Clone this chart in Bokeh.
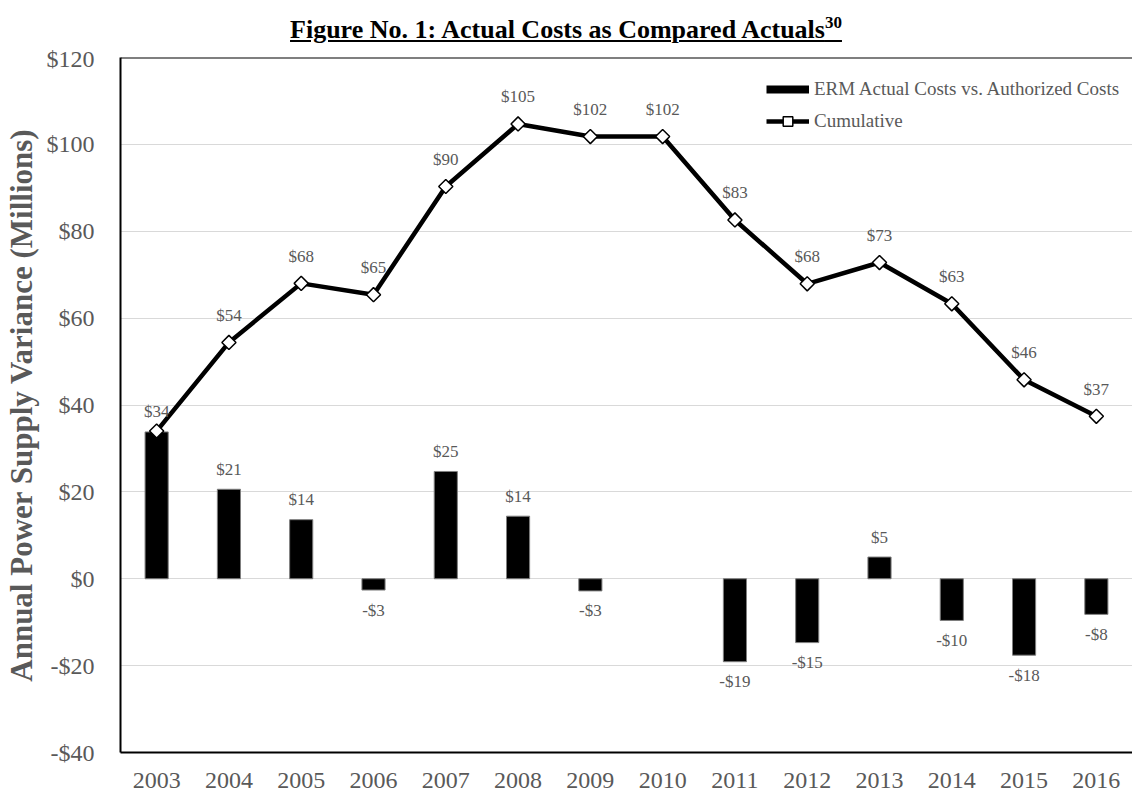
from bokeh.plotting import figure
from bokeh.models import Div, Span, Legend, LegendItem, FixedTicker, ColumnDataSource, Range1d
from bokeh.layouts import column
from bokeh.embed import file_html
from bokeh.resources import INLINE
from bokeh.core.properties import value
import math

years = [2003, 2004, 2005, 2006, 2007, 2008, 2009, 2010, 2011, 2012, 2013, 2014, 2015, 2016]
annual = [33.8, 20.6, 13.6, -2.6, 24.7, 14.4, -2.8, 0.0, -19.1, -14.7, 5.0, -9.6, -17.6, -8.2]
cumulative = [34.0, 54.4, 68.0, 65.4, 90.3, 104.7, 101.8, 101.8, 82.6, 67.9, 72.8, 63.3, 45.8, 37.4]
y_ticks = [-40, -20, 0, 20, 40, 60, 80, 100, 120]
y_tick_labels = ["-$40", "-$20", "$0", "$20", "$40", "$60", "$80", "$100", "$120"]
bar_name = "ERM Actual Costs vs. Authorized Costs"
line_name = "Cumulative"
title_text = "Figure No. 1: Actual Costs as Compared Actuals"
title_sup = "30"
y_label = "Annual Power Supply Variance (Millions)"

FONT = "Liberation Serif"
GRAY = "#595959"

def money(v):
    r = int(round(v))
    return ("-$%d" % abs(r)) if r < 0 else ("$%d" % r)

bx = [x for x, v in zip(years, annual) if v != 0]
bv = [v for v in annual if v != 0]
bar_src = ColumnDataSource(dict(x=bx, top=bv, text=[money(v) for v in bv],
                                off=[-20 if v > 0 else 20 for v in bv]))
line_src = ColumnDataSource(dict(x=years, y=cumulative))
bar_text = dict(zip(bx, [money(v) for v in bv]))
lx = [x for x, c in zip(years, cumulative) if bar_text.get(x) != money(c)]
lc = [c for x, c in zip(years, cumulative) if bar_text.get(x) != money(c)]
line_lab_src = ColumnDataSource(dict(x=lx, y=lc, text=[money(c) for c in lc]))

p = figure(width=1132, height=748, output_backend="svg", toolbar_location=None,
           x_range=Range1d(years[0] - 0.5, years[-1] + 0.5),
           y_range=Range1d(y_ticks[0], y_ticks[-1]),
           min_border_left=111, min_border_right=0, min_border_top=12, min_border_bottom=41)
p.outline_line_color = None
p.background_fill_color = "white"

p.vbar(x="x", top="top", bottom=0, width=0.32, source=bar_src,
       fill_color="black", line_color="#7f7f7f", line_width=1)
ln = p.line(x="x", y="y", source=line_src, line_color="black", line_width=4.5)
mk = p.scatter(x="x", y="y", source=line_src, marker="square", angle=math.pi / 4, size=10,
               fill_color="white", line_color="black", line_width=1.5)

p.text(x="x", y="top", text="text", source=bar_src, y_offset="off",
       text_font=value(FONT), text_font_size="17px", text_color=GRAY,
       text_align="center", text_baseline="middle")
p.text(x="x", y="y", text="text", source=line_lab_src, y_offset=-27,
       text_font=value(FONT), text_font_size="17px", text_color=GRAY,
       text_align="center", text_baseline="middle")

p.add_layout(Span(location=y_ticks[-1], dimension="width", line_color="black", line_width=2))

# legend proxy for the bar series (thick black stroke, as in the reference legend)
leg_bar = p.line(x=[float("nan"), float("nan")], y=[float("nan"), float("nan")],
                 line_color="black", line_width=8)
legend = Legend(items=[LegendItem(label=bar_name, renderers=[leg_bar]),
                       LegendItem(label=line_name, renderers=[ln, mk])],
                location=(646, 619), padding=0, margin=0, spacing=8,
                glyph_width=43, glyph_height=24, label_height=20, label_standoff=5,
                label_text_font=FONT, label_text_font_size="19px", label_text_color=GRAY,
                border_line_color=None, background_fill_alpha=0)
p.add_layout(legend)

p.xaxis.ticker = FixedTicker(ticks=years)
p.yaxis.ticker = FixedTicker(ticks=y_ticks)
p.yaxis.major_label_overrides = {t: l for t, l in zip(y_ticks, y_tick_labels)}
for ax in (p.xaxis, p.yaxis):
    ax.major_label_text_font = FONT
    ax.major_label_text_font_size = "24px"
    ax.major_label_text_color = GRAY
    ax.major_tick_line_color = None
    ax.minor_tick_line_color = None
    ax.axis_line_color = "black"
    ax.axis_line_width = 2
p.xaxis.major_label_standoff = 14
p.yaxis.major_label_standoff = 20
p.yaxis.axis_label = y_label
p.yaxis.axis_label_text_font = FONT
p.yaxis.axis_label_text_font_style = "bold"
p.yaxis.axis_label_text_font_size = "31px"
p.yaxis.axis_label_text_color = GRAY
p.yaxis.axis_label_standoff = 5

p.xgrid.grid_line_color = None
p.ygrid.grid_line_color = "#d9d9d9"
p.ygrid.grid_line_width = 1

title = Div(text=("<div style=\"width:1132px;text-align:center;font-family:'%s';"
                  "font-weight:bold;font-size:26px;color:black;line-height:30px;padding-top:8px;\">"
                  "<u>%s<sup style=\"font-size:17px;\">%s</sup></u></div>") % (FONT, title_text, title_sup),
            width=1132, height=45, margin=0)

layout = column(title, p, spacing=0)
open("out.html", "w").write(file_html(layout, INLINE))
